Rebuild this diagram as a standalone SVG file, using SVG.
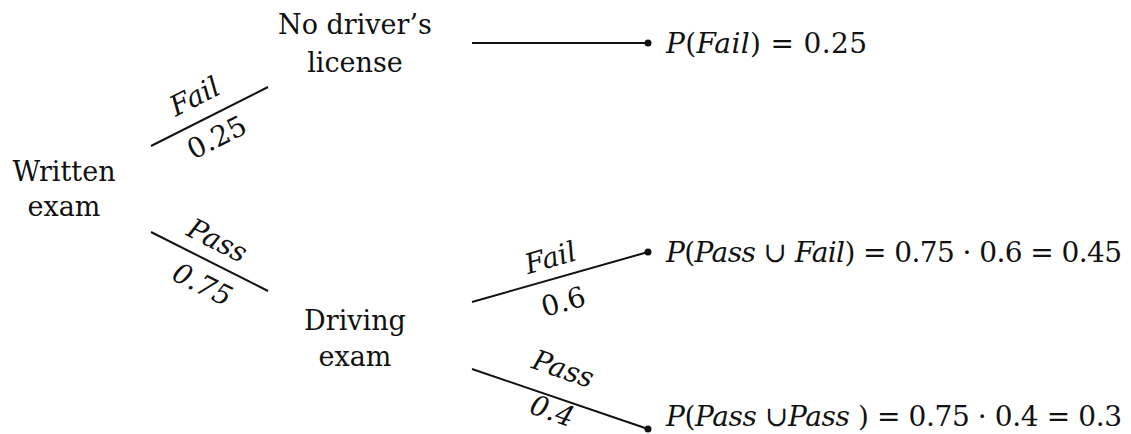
<svg xmlns="http://www.w3.org/2000/svg" width="1131" height="434" viewBox="0 0 1131 434">
<style>
.t{font-family:"DejaVu Serif","Liberation Serif",serif;font-size:27px;fill:#111}
.m{font-family:"DejaVu Serif","Liberation Serif",serif;font-size:28px;fill:#111}
.i{font-style:italic}
.c{text-anchor:middle}
.ln{stroke:#111;stroke-width:2;fill:none}
</style>
<rect width="1131" height="434" fill="#fff"/>
<g id="written-exam"><text class="t c" x="64" y="181">Written</text><text class="t c" x="64" y="216">exam</text></g>
<g id="no-license"><text class="t c" x="355" y="34">No driver’s</text><text class="t c" x="355" y="72">license</text></g>
<g id="driving-exam"><text class="t c" x="355" y="330">Driving</text><text class="t c" x="355" y="366">exam</text></g>
<g id="connectors">
<line class="ln" x1="151" y1="146" x2="268" y2="87"/>
<line class="ln" x1="151" y1="232" x2="268" y2="291"/>
<line class="ln" x1="472" y1="43" x2="648" y2="43"/>
<line class="ln" x1="472" y1="302" x2="648" y2="252"/>
<line class="ln" x1="472" y1="369" x2="648" y2="429"/>
<circle cx="648" cy="43" r="3.5" fill="#111"/>
<circle cx="648" cy="252" r="3.5" fill="#111"/>
<circle cx="648" cy="429" r="3.5" fill="#111"/>
<text class="m i c" transform="translate(199,105) rotate(-26.8)">Fail</text>
<text class="m c" transform="translate(221,146) rotate(-26.8)">0.25</text>
<text class="m i c" transform="translate(213,249) rotate(26.8)">Pass</text>
<text class="m i c" transform="translate(198,293) rotate(26.8)">0.75</text>
<text class="m i c" transform="translate(553,267) rotate(-15.9)">Fail</text>
<text class="m c" transform="translate(566,311) rotate(-15.9)">0.6</text>
<text class="m i c" transform="translate(560,378) rotate(18.8)">Pass</text>
<text class="m i c" transform="translate(549,420) rotate(18.8)">0.4</text>
</g>
<g id="result-1"><text class="m" x="666" y="53" textLength="201"><tspan class="i">P</tspan>(<tspan class="i">Fail</tspan>) = 0.25</text></g>
<g id="result-2"><text class="m" x="666" y="262" textLength="456"><tspan class="i">P</tspan>(<tspan class="i">Pass</tspan> ∪ <tspan class="i">Fail</tspan>) = 0.75 · 0.6 = 0.45</text></g>
<g id="result-3"><text class="m" x="666" y="426" textLength="456"><tspan class="i">P</tspan>(<tspan class="i">Pass</tspan>  ∪<tspan class="i">Pass</tspan> ) = 0.75 · 0.4 = 0.3</text></g>
</svg>
